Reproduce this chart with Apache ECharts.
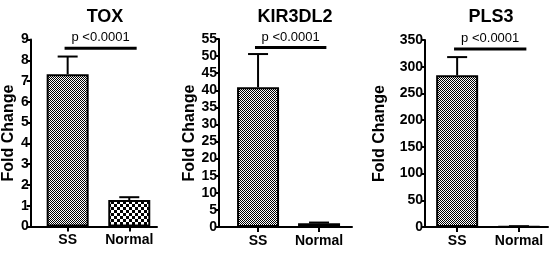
<!DOCTYPE html>
<html>
<head>
<meta charset="utf-8">
<script src="https://cdn.jsdelivr.net/npm/echarts@6/dist/echarts.min.js"></script>
<style>
  html, body { margin: 0; padding: 0; background: #fff; }
  #chart { width: 550px; height: 253px; }
</style>
</head>
<body>
<div id="chart"></div>
<script>
// data
const categories = ['SS', 'Normal'];
const genes = ['TOX', 'KIR3DL2', 'PLS3'];
const meanSS = [7.33, 40.9, 284];
const errSS = [0.85, 9.7, 34];
const meanNormal = [1.27, 1.1, 1.0];
const errNormal = [0.14, 0.2, 0.5];
const yMax = [9, 55, 350];
const yStep = [1, 5, 50];
const sigLevel = [8.58, 52.5, 333];
const pText = 'p <0.0001';

document.addEventListener('DOMContentLoaded', function () {
    const chart = echarts.init(document.getElementById('chart'));
    const font = 'Arial, "Liberation Sans", sans-serif';

    // 棋盘格纹理
    function checker(cell) {
        const c = document.createElement('canvas');
        c.width = c.height = cell * 2;
        const ctx = c.getContext('2d');
        ctx.fillStyle = '#fff';
        ctx.fillRect(0, 0, cell * 2, cell * 2);
        ctx.fillStyle = '#000';
        ctx.fillRect(0, 0, cell, cell);
        ctx.fillRect(cell, cell, cell, cell);
        return c;
    }
    const finePattern = { image: checker(1), repeat: 'repeat' };
    const coarsePattern = { image: checker(3), repeat: 'repeat' };

    // 每个面板的布局
    const panels = [
        { left: 30, top: 39.5, width: 127, height: 187, xMin: -0.6, xMax: 1.45, nameGap: 12, titleX: 100 },
        { left: 219, top: 39, width: 133, height: 188, xMin: -0.64, xMax: 1.54, nameGap: 21, titleX: 290 },
        { left: 425, top: 40, width: 123, height: 187, xMin: -0.52, xMax: 1.47, nameGap: 37, titleX: 486 }
    ];

    const grid = [], xAxis = [], yAxis = [], title = [], series = [];

    panels.forEach(function (p, i) {
        grid.push({ left: p.left, top: p.top, width: p.width, height: p.height });
        title.push({
            text: genes[i], left: p.titleX, top: 3, textAlign: 'center',
            textStyle: { fontFamily: font, fontSize: 18, fontWeight: 'bold', color: '#000' }
        });
        xAxis.push({
            type: 'value', gridIndex: i, min: p.xMin, max: p.xMax,
            splitLine: { show: false },
            axisLine: { onZero: false, lineStyle: { color: '#000', width: 2 } },
            axisTick: { customValues: [0, 1], length: 5, lineStyle: { color: '#000', width: 2 } },
            axisLabel: {
                customValues: [0, 1], margin: 7,
                formatter: function (v) { return categories[Math.round(v)]; },
                fontFamily: font, fontSize: 14, fontWeight: 'bold', color: '#000'
            }
        });
        yAxis.push({
            type: 'value', gridIndex: i, min: 0, max: yMax[i], interval: yStep[i],
            name: 'Fold Change', nameLocation: 'middle', nameGap: p.nameGap,
            nameTextStyle: { fontFamily: font, fontSize: 16, fontWeight: 'bold', color: '#000' },
            splitLine: { show: false },
            axisLine: { show: true, onZero: false, lineStyle: { color: '#000', width: 2 } },
            axisTick: { show: true, length: 4, lineStyle: { color: '#000', width: 2 } },
            axisLabel: { margin: 2, fontFamily: font, fontSize: 14, fontWeight: 'bold', color: '#000' }
        });

        // 柱
        series.push({
            type: 'bar', xAxisIndex: i, yAxisIndex: i, barWidth: 42, z: 2,
            data: [
                { value: [0, meanSS[i]], itemStyle: { color: finePattern } },
                { value: [1, meanNormal[i]], itemStyle: { color: coarsePattern } }
            ],
            itemStyle: { borderColor: '#000', borderWidth: 2 }
        });

        // 误差线
        series.push({
            type: 'custom', xAxisIndex: i, yAxisIndex: i, z: 3,
            data: [
                [0, meanSS[i], meanSS[i] + errSS[i]],
                [1, meanNormal[i], meanNormal[i] + errNormal[i]]
            ],
            renderItem: function (params, api) {
                const base = api.coord([api.value(0), api.value(1)]);
                const top = api.coord([api.value(0), api.value(2)]);
                const st = { stroke: '#000', lineWidth: 2 };
                return {
                    type: 'group',
                    children: [
                        { type: 'line', shape: { x1: base[0], y1: base[1], x2: top[0], y2: top[1] }, style: st },
                        { type: 'line', shape: { x1: top[0] - 10, y1: top[1], x2: top[0] + 10, y2: top[1] }, style: st }
                    ]
                };
            }
        });

        // 显著性标注
        series.push({
            type: 'custom', xAxisIndex: i, yAxisIndex: i, z: 3,
            data: [[-0.05, 1.12, sigLevel[i]]],
            renderItem: function (params, api) {
                const a = api.coord([api.value(0), api.value(2)]);
                const b = api.coord([api.value(1), api.value(2)]);
                return {
                    type: 'group',
                    children: [
                        { type: 'line', shape: { x1: a[0], y1: a[1], x2: b[0], y2: b[1] }, style: { stroke: '#000', lineWidth: 3 } },
                        {
                            type: 'text', x: (a[0] + b[0]) / 2, y: a[1] - 4,
                            style: { text: pText, align: 'center', verticalAlign: 'bottom', font: '13px ' + font, fill: '#000' }
                        }
                    ]
                };
            }
        });
    });

    chart.setOption({
        animation: false,
        backgroundColor: '#fff',
        title: title,
        grid: grid,
        xAxis: xAxis,
        yAxis: yAxis,
        series: series
    });
});
</script>
</body>
</html>
